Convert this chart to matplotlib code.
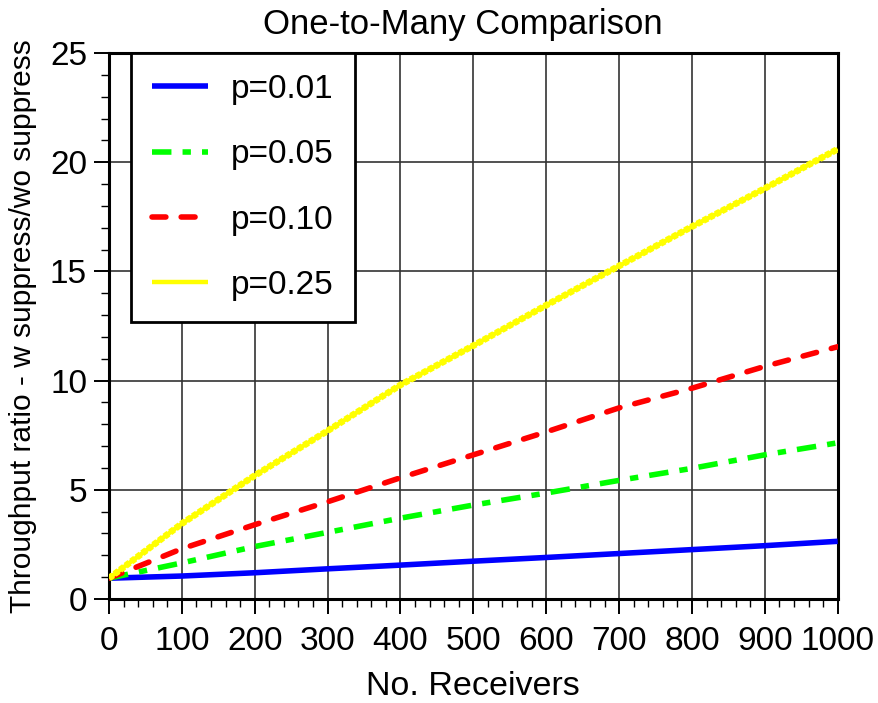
import matplotlib
matplotlib.use("Agg")
import matplotlib.pyplot as plt
from matplotlib.ticker import MultipleLocator

plt.rcParams['font.family'] = ['Liberation Sans', 'DejaVu Sans']
plt.rcParams['lines.scale_dashes'] = False

receivers = [0, 100, 200, 300, 400, 500, 600, 700, 800, 900, 1000]
p001 = [0.95, 1.05, 1.2, 1.38, 1.55, 1.73, 1.9, 2.08, 2.26, 2.44, 2.64]
p005 = [0.95, 1.65, 2.4, 3.05, 3.7, 4.3, 4.85, 5.43, 5.98, 6.6, 7.15]
p010 = [0.95, 2.3, 3.4, 4.45, 5.55, 6.6, 7.65, 8.75, 9.65, 10.65, 11.55]
p025 = [0.95, 3.45, 5.65, 7.7, 9.8, 11.6, 13.45, 15.25, 17.05, 18.8, 20.6]

labels = ['p=0.01', 'p=0.05', 'p=0.10', 'p=0.25']

FS_TICK = 24
FS_LAB = 25

fig = plt.figure(figsize=(8.79, 7.03), dpi=100)
ax = fig.add_axes([0.124, 0.148, 0.829, 0.7766])

lw = 4.0
ax.plot(receivers, p001, color='#0000ff', lw=lw, solid_capstyle='butt', label=labels[0], zorder=3)
ax.plot(receivers, p005, color='#00ff00', lw=lw, dashes=(14, 8, 6, 8), dash_capstyle='butt', label=labels[1], zorder=3)
ax.plot(receivers, p010, color='#ff0000', lw=lw, dashes=(10, 11), dash_capstyle='round', label=labels[2], zorder=3)
ax.plot(receivers, p025, color='#ffff00', lw=3.2, solid_capstyle='butt', label=labels[3], zorder=3)
ax.plot(receivers, p025, color='#ffff00', lw=4.8, dashes=(3.6, 1.4), dash_capstyle='butt', zorder=3)

ax.set_xlim(0, 1000)
ax.set_ylim(0, 25)
ax.xaxis.set_major_locator(MultipleLocator(100))
ax.xaxis.set_minor_locator(MultipleLocator(20))
ax.yaxis.set_major_locator(MultipleLocator(5))
ax.yaxis.set_minor_locator(MultipleLocator(1))
ax.tick_params(which='major', direction='out', length=10.8, width=1.4, labelsize=FS_TICK)
ax.tick_params(axis='x', which='major', pad=8.5)
ax.tick_params(axis='y', which='major', pad=5)
ax.tick_params(which='minor', direction='out', length=5.5, width=1.0)
ax.grid(True, which='major', color='#333333', lw=1.2)
for s in ax.spines.values():
    s.set_linewidth(2.2)

ax.set_title('One-to-Many Comparison', fontsize=FS_LAB, pad=14, x=0.485)
ax.set_xlabel('No. Receivers', fontsize=24.5, labelpad=10)
ax.set_ylabel('Throughput ratio - w suppress/wo suppress', fontsize=21.5, labelpad=9)

leg = ax.legend(loc='upper left', bbox_to_anchor=(0.03, 1.0), fontsize=FS_TICK,
                frameon=True, fancybox=False, edgecolor='black', framealpha=1,
                handlelength=1.68, handletextpad=0.69, labelspacing=1.03,
                borderpad=0.63, borderaxespad=0)
leg.get_frame().set_linewidth(2.0)
leg.set_zorder(5)

fig.savefig('out.png', dpi=100)
